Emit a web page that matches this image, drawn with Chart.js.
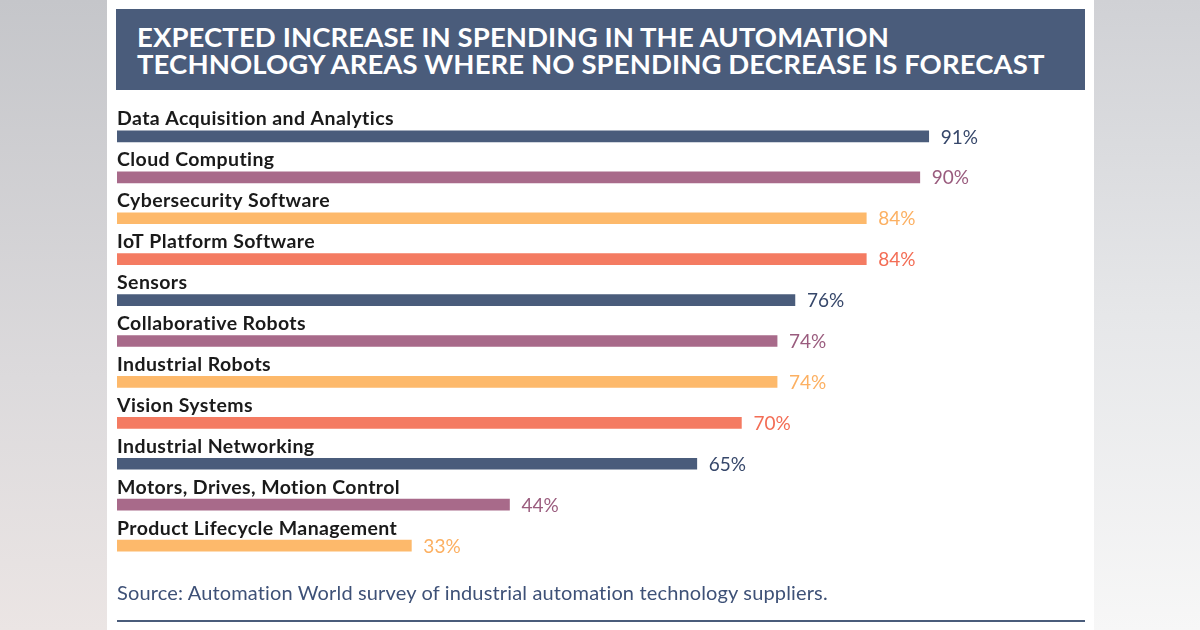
<!DOCTYPE html>
<html>
<head>
<meta charset="utf-8">
<script src="https://cdn.jsdelivr.net/npm/chart.js@4"></script>
<style>
  html, body { margin: 0; padding: 0; }
  body { width: 1200px; height: 630px; position: relative; overflow: hidden;
         background: linear-gradient(180deg, #c5c6ca 0%, #dcdadc 60%, #ebe5e4 100%); font-family: Lato, "Noto Sans", sans-serif; }
  .right { position: absolute; left: 1094px; top: 0; width: 106px; height: 630px;
           background: linear-gradient(180deg, #d0d1d5 0%, #e6e7e9 50%, #f7f7f7 100%); }
  .panel { position: absolute; left: 107px; top: 0; width: 987px; height: 630px; background: #fff; }
  .title { position: absolute; left: 116px; top: 9px; width: 969px; height: 81px; background: #4a5c7b;
           color: #fff; font-size: 27.5px; font-weight: bold; line-height: 27px; box-sizing: border-box;
           padding: 14px 0 0 21px; letter-spacing: 0.1px; }
  .source { position: absolute; left: 117px; top: 580px; color: #3e5177; font-size: 20px; letter-spacing: 0.15px; }
  .rule { position: absolute; left: 117px; top: 620px; width: 968px; height: 2px; background: #4a5c7b; }
  canvas { position: absolute; left: 0; top: 0; }
</style>
</head>
<body>
<div class="panel"></div>
<div class="right"></div>
<div class="title">EXPECTED INCREASE IN SPENDING IN THE AUTOMATION<br>TECHNOLOGY AREAS WHERE NO SPENDING DECREASE IS FORECAST</div>
<canvas id="grafico" width="1200" height="630"></canvas>
<div class="source">Source: Automation World survey of industrial automation technology suppliers.</div>
<div class="rule"></div>
<script>
const categorias = [
    "Data Acquisition and Analytics",
    "Cloud Computing",
    "Cybersecurity Software",
    "IoT Platform Software",
    "Sensors",
    "Collaborative Robots",
    "Industrial Robots",
    "Vision Systems",
    "Industrial Networking",
    "Motors, Drives, Motion Control",
    "Product Lifecycle Management"
]
const porcentajes = [91, 90, 84, 84, 76, 74, 74, 70, 65, 44, 33]
const colores = ["#4a5c7b", "#a86a8a", "#fdb96b", "#f47b62"]

const coloresBarras = categorias.map((c, i) => colores[i % colores.length])
const coloresTexto = ["#36476a", "#9a5c7e", "#fcb062", "#f36d55"]

const etiquetas = {
    id: 'etiquetas',
    afterDatasetsDraw(chart) {
        const ctx = chart.ctx
        const meta = chart.getDatasetMeta(0)
        ctx.save()
        meta.data.forEach((bar, i) => {
            ctx.font = 'bold 19.5px Lato, "Noto Sans", sans-serif'
            ctx.letterSpacing = '0.4px'
            ctx.fillStyle = '#1a1a1a'
            ctx.textAlign = 'left'
            ctx.textBaseline = 'alphabetic'
            ctx.fillText(categorias[i], chart.chartArea.left, bar.y - 11)
            ctx.font = '19px Lato, "Noto Sans", sans-serif'
            ctx.letterSpacing = '0px'
            ctx.fillStyle = coloresTexto[i % coloresTexto.length]
            ctx.textBaseline = 'middle'
            ctx.fillText(porcentajes[i] + '%', bar.x + 12, bar.y + 1)
        })
        ctx.restore()
    }
}

new Chart(document.getElementById('grafico'), {
    type: 'bar',
    data: {
        labels: categorias,
        datasets: [{
            data: porcentajes,
            backgroundColor: coloresBarras,
            barThickness: 11
        }]
    },
    options: {
        indexAxis: 'y',
        responsive: false,
        animation: false,
        layout: { padding: { left: 117, right: 191, top: 116, bottom: 64 } },
        scales: {
            x: { display: false, min: 0, max: 100 },
            y: { display: false }
        },
        plugins: {
            legend: { display: false },
            tooltip: { enabled: false }
        }
    },
    plugins: [etiquetas]
});
</script>
</body>
</html>
